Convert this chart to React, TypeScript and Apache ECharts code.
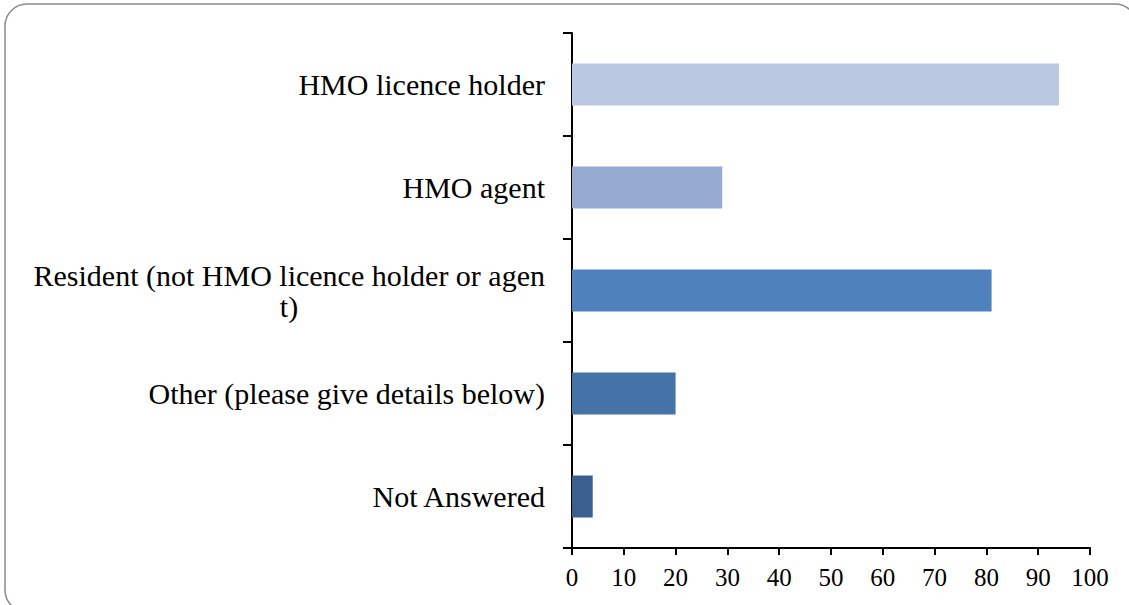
import React, { useEffect, useRef } from "react";
import * as echarts from "echarts";

const categories = [
  "HMO licence holder",
  "HMO agent",
  "Resident (not HMO licence holder or agent)",
  "Other (please give details below)",
  "Not Answered",
];
const values = [94, 29, 81, 20, 4];
const barColors = ["#BBC8E1", "#95A9D1", "#4F81BD", "#4572A7", "#3B5F8E"];
const xTicks = { min: 0, max: 100, interval: 10 };

const FONT = "'Liberation Serif', 'DejaVu Serif', serif";

export default function App() {
  const ref = useRef<HTMLDivElement>(null);
  useEffect(() => {
    if (!ref.current) return;
    const chart = echarts.init(ref.current, undefined, { renderer: "svg" });
    chart.setOption({
      animation: false,
      backgroundColor: "#ffffff",
      graphic: [
        {
          type: "rect",
          shape: { x: 5, y: 4, width: 1132, height: 608, r: 22 },
          style: { fill: "none", stroke: "#8a8a8a", lineWidth: 1.5 },
          silent: true,
          z: 0,
        },
      ],
      grid: { left: 572, top: 33, right: 39, bottom: 57, containLabel: false },
      xAxis: {
        type: "value",
        min: xTicks.min,
        max: xTicks.max,
        interval: xTicks.interval,
        axisLine: { show: true, lineStyle: { color: "#000", width: 2 } },
        axisTick: { show: true, inside: false, length: 7, lineStyle: { color: "#000", width: 2 } },
        splitLine: { show: false },
        axisLabel: { color: "#000", fontFamily: FONT, fontSize: 25, margin: 17 },
      },
      yAxis: {
        type: "category",
        data: categories,
        inverse: true,
        axisLine: { show: true, lineStyle: { color: "#000", width: 2 } },
        axisTick: { show: true, inside: false, length: 9, alignWithLabel: false, lineStyle: { color: "#000", width: 2 } },
        splitLine: { show: false },
        axisLabel: {
          color: "#000",
          fontFamily: FONT,
          fontSize: 30,
          margin: 27,
          formatter: (v: string) => {
            if (v.length > 40) {
              return `{r|${v.slice(0, 40)}}\n{c|${v.slice(40)}}`;
            }
            return v;
          },
          rich: {
            r: {
              width: 512,
              align: "right",
              fontFamily: FONT,
              fontSize: 30,
              color: "#000",
              lineHeight: 31,
            },
            c: {
              width: 512,
              align: "center",
              fontFamily: FONT,
              fontSize: 30,
              color: "#000",
              lineHeight: 31,
            },
          },
        },
      },
      series: [
        {
          type: "bar",
          barWidth: 42,
          data: values.map((v, i) => ({ value: v, itemStyle: { color: barColors[i] } })),
        },
      ],
    });
    return () => chart.dispose();
  }, []);
  return (
    <div
      ref={ref}
      style={{ position: "fixed", left: 0, top: 0, width: 1129, height: 605 }}
    />
  );
}
